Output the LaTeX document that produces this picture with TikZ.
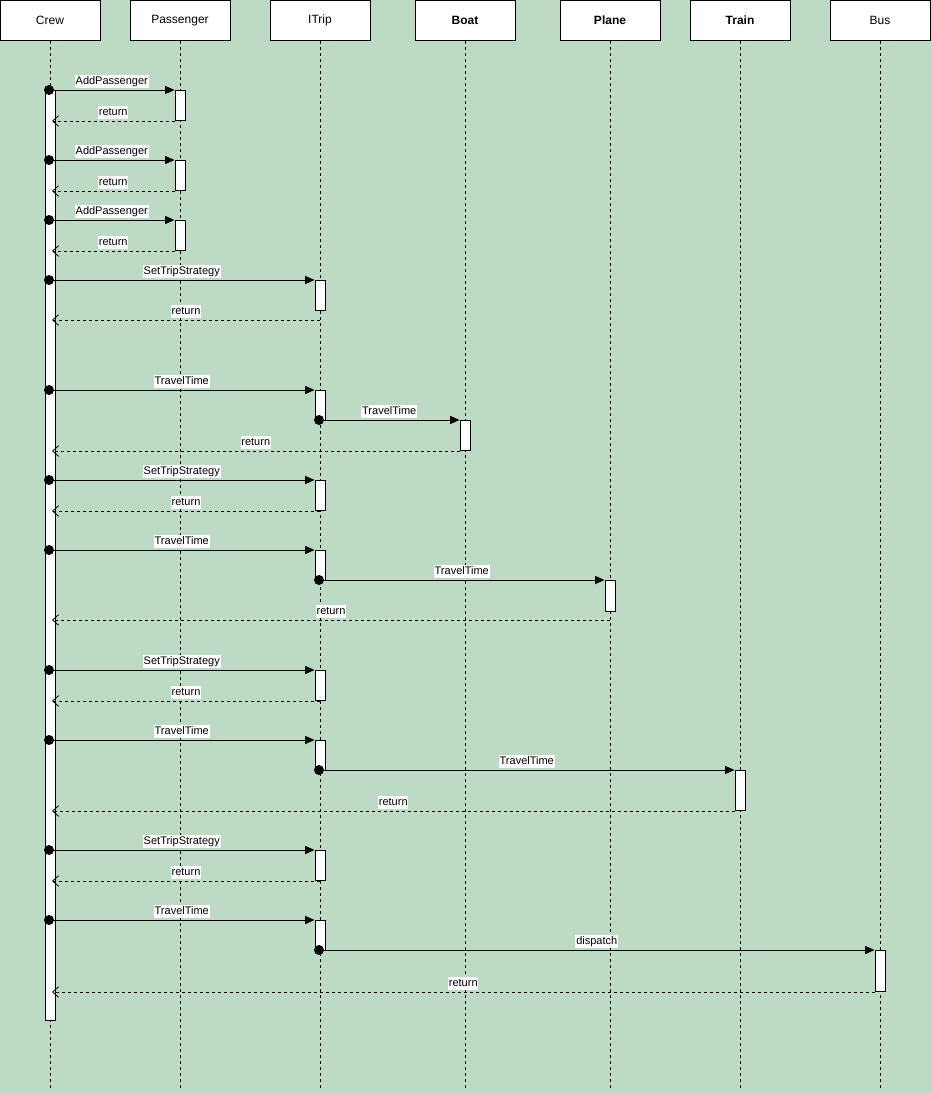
\documentclass[tikz,border=0pt]{standalone}
\usepackage{fontspec}
\setmainfont{Liberation Sans}
\usetikzlibrary{arrows.meta}
\definecolor{bgGreen}{RGB}{189,219,196}
\begin{document}
\begin{tikzpicture}[x=0.75pt,y=-0.75pt,
  head/.style={draw, fill=white, line width=0.75pt, minimum width=75pt, minimum height=30pt, inner sep=0pt, font=\fontsize{9}{10}\selectfont},
  life/.style={line width=0.75pt, dash pattern=on 2.25pt off 2.25pt},
  act/.style={draw, fill=white, line width=0.75pt, minimum width=7.5pt, inner sep=0pt, anchor=north},
  msg/.style={line width=0.75pt, -{Triangle[length=7pt,width=6pt]}},
  ret/.style={line width=0.75pt, dash pattern=on 2.25pt off 2.25pt, -{Straight Barb[length=4.5pt,width=8pt,line width=0.6pt]}},
  dot/.style={circle, fill=black, inner sep=0pt, minimum size=7.5pt},
  lbl/.style={fill=white, inner sep=0.6pt, text height=6.3pt, text depth=1.8pt, font=\fontsize{8.25}{9}\selectfont, anchor=base, yshift=4pt}
]
\fill[bgGreen] (0,0) rectangle (932,1093);
\useasboundingbox (0,0) rectangle (932,1093);

% participants
\node[head] (crew) at (50,20.5) {Crew};
\node[head] (pass) at (180,20.5) {Passenger};
\node[head] (itrip) at (320,20.5) {ITrip};
\node[head, font=\fontsize{9}{10}\selectfont\bfseries] (boat) at (465,20.5) {Boat};
\node[head, font=\fontsize{9}{10}\selectfont\bfseries] (plane) at (610,20.5) {Plane};
\node[head, font=\fontsize{9}{10}\selectfont\bfseries] (train) at (740,20.5) {Train};
\node[head] (bus) at (880,20.5) {Bus};

% lifelines
\foreach \p/\x in {crew/50,pass/180,itrip/320,boat/465,plane/610,train/740,bus/880}{
  \coordinate (\p end) at (\x,1088);
  \draw[life] (\p.south) -- (\p end);
}

% activation bars
\node[act, minimum height=697.5pt] (aCrew) at (50,90) {};
\node[act, minimum height=22.5pt] (aP1) at (180,90) {};
\node[act, minimum height=22.5pt] (aP2) at (180,160) {};
\node[act, minimum height=22.5pt] (aP3) at (180,220) {};
\node[act, minimum height=22.5pt] (aI1) at (320,280) {};
\node[act, minimum height=22.5pt] (aI2) at (320,390) {};
\node[act, minimum height=22.5pt] (aB) at (465,420) {};
\node[act, minimum height=22.5pt] (aI3) at (320,480) {};
\node[act, minimum height=22.5pt] (aI4) at (320,550) {};
\node[act, minimum height=23.25pt] (aPl) at (610,580) {};
\node[act, minimum height=22.5pt] (aI5) at (320,670) {};
\node[act, minimum height=22.5pt] (aI6) at (320,740) {};
\node[act, minimum height=30pt] (aT) at (740,770) {};
\node[act, minimum height=22.5pt] (aI7) at (320,850) {};
\node[act, minimum height=22.5pt] (aI8) at (320,920) {};
\node[act, minimum height=30.75pt] (aBus) at (880,950) {};

% call origins on the Crew lifeline
\foreach \n/\y in {1/90,2/160,3/220,4/280,5/390,6/480,7/550,8/670,9/740,10/850,11/920}{
  \node[dot] (c\n) at (49,\y) {};
}
% call origins on the ITrip lifeline
\node[dot] (i1) at (319,420) {};
\node[dot] (i2) at (319,580) {};
\node[dot] (i3) at (319,770) {};
\node[dot] (i4) at (319,950) {};

% return origins and the point where returns meet the Crew bar
\coordinate (rI1) at (320,320);
\coordinate (rPl) at (610,620);
\coordinate (crewIn) at (52,0);

% calls from Crew
\draw[msg] (c1.center) -- node[lbl]{AddPassenger} (aP1.north west);
\draw[msg] (c2.center) -- node[lbl]{AddPassenger} (aP2.north west);
\draw[msg] (c3.center) -- node[lbl]{AddPassenger} (aP3.north west);
\draw[msg] (c4.center) -- node[lbl]{SetTripStrategy} (aI1.north west);
\draw[msg] (c5.center) -- node[lbl]{TravelTime} (aI2.north west);
\draw[msg] (c6.center) -- node[lbl]{SetTripStrategy} (aI3.north west);
\draw[msg] (c7.center) -- node[lbl]{TravelTime} (aI4.north west);
\draw[msg] (c8.center) -- node[lbl]{SetTripStrategy} (aI5.north west);
\draw[msg] (c9.center) -- node[lbl]{TravelTime} (aI6.north west);
\draw[msg] (c10.center) -- node[lbl]{SetTripStrategy} (aI7.north west);
\draw[msg] (c11.center) -- node[lbl]{TravelTime} (aI8.north west);

% calls from ITrip
\draw[msg] (i1.center) -- node[lbl]{TravelTime} (aB.north west);
\draw[msg] (i2.center) -- node[lbl]{TravelTime} (aPl.north west);
\draw[msg] (i3.center) -- node[lbl]{TravelTime} (aT.north west);
\draw[msg] (i4.center) -- node[lbl]{dispatch} (aBus.north west);

% returns to Crew
\draw[ret] (aP1.south west) -- node[lbl]{return} (crewIn |- aP1.south west);
\draw[ret] (aP2.south west) -- node[lbl]{return} (crewIn |- aP2.south west);
\draw[ret] (aP3.south west) -- node[lbl]{return} (crewIn |- aP3.south west);
\draw[ret] (rI1) -- node[lbl]{return} (crewIn |- rI1);
\draw[ret] (aB.south west) -- node[lbl]{return} (crewIn |- aB.south west);
\draw[ret] (aI3.south) -- node[lbl]{return} (crewIn |- aI3.south);
\draw[ret] (rPl) -- node[lbl]{return} (crewIn |- rPl);
\draw[ret] (aI5.south) -- node[lbl]{return} (crewIn |- aI5.south);
\draw[ret] (aT.south west) -- node[lbl]{return} (crewIn |- aT.south west);
\draw[ret] (aI7.south) -- node[lbl]{return} (crewIn |- aI7.south);
\draw[ret] (aBus.south west) -- node[lbl]{return} (crewIn |- aBus.south west);
\end{tikzpicture}
\end{document}
